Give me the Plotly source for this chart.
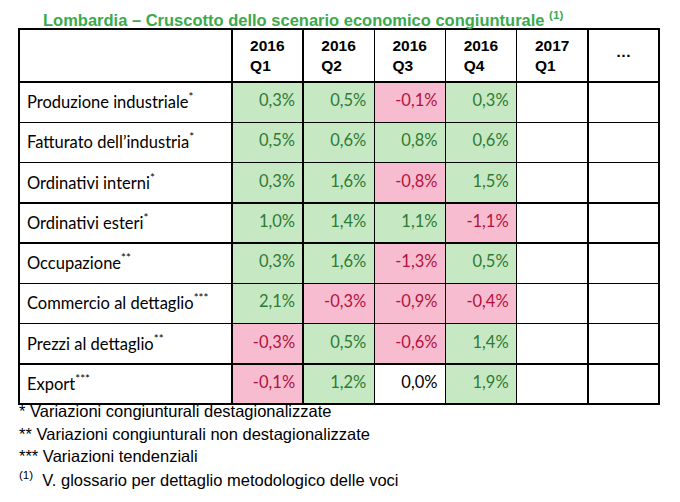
import plotly.graph_objects as go

title = "Lombardia – Cruscotto dello scenario economico congiunturale"
quarters = ["2016<br>Q1", "2016<br>Q2", "2016<br>Q3", "2016<br>Q4", "2017<br>Q1", "…"]
indicators = ["Produzione industriale", "Fatturato dell’industria", "Ordinativi interni",
              "Ordinativi esteri", "Occupazione", "Commercio al dettaglio",
              "Prezzi al dettaglio", "Export"]
marks = ["*", "*", "*", "*", "**", "***", "**", "***"]
q1_2016 = [0.3, 0.5, 0.3, 1.0, 0.3, 2.1, -0.3, -0.1]
q2_2016 = [0.5, 0.6, 1.6, 1.4, 1.6, -0.3, 0.5, 1.2]
q3_2016 = [-0.1, 0.8, -0.8, 1.1, -1.3, -0.9, -0.6, 0.0]
q4_2016 = [0.3, 0.6, 1.5, -1.1, 0.5, -0.4, 1.4, 1.9]
footnotes = ["* Variazioni congiunturali destagionalizzate",
             "** Variazioni congiunturali non destagionalizzate",
             "*** Variazioni tendenziali",
             "<sup>(1)</sup>  V. glossario per dettaglio metodologico delle voci"]

GREEN_FILL, PINK_FILL = "#c6e9c3", "#f7bcd0"
GREEN_TXT, RED_TXT = "#2f7a34", "#b3123f"
CELL_FS = 16.5
HEAD_FS = 15.5


def fmt(v):
    return f"{v:.1f}".replace(".", ",") + "%"


def fill(v):
    return GREEN_FILL if v > 0 else (PINK_FILL if v < 0 else "white")


def tcol(v):
    return GREEN_TXT if v > 0 else (RED_TXT if v < 0 else "black")


def cell(t, fs=CELL_FS):
    # small spacer line so the text sits in the vertical middle of the cell
    return f"<br><span style='font-size:{fs}px'>{t}</span>"


series = [q1_2016, q2_2016, q3_2016, q4_2016]
n = len(indicators)
labels = [cell(f"{a}<sup>{m}</sup>") for a, m in zip(indicators, marks)]
values = [labels] + [[cell(fmt(v)) for v in s] for s in series] + [[""] * n, [""] * n]
fills = [["white"] * n] + [[fill(v) for v in s] for s in series] + [["white"] * n] * 2
fcols = [["black"] * n] + [[tcol(v) for v in s] for s in series] + [["black"] * n] * 2

head_vals = [""] + [f"<b>{q}</b>" for q in quarters[:-1]] + [f"<br><b>{quarters[-1]}</b>"]

# page body has an 8px margin: figure coordinates = reference pixels - 8
OFF = 8
W, H = 680 - OFF, 502 - OFF


def px(x):
    return (x - OFF) / W


def py(y):
    return 1 - (y - OFF) / H


fig = go.Figure(go.Table(
    domain=dict(x=[px(19), px(659)], y=[py(410), py(29)]),
    columnwidth=[213] + [71.2] * 6,
    header=dict(values=head_vals,
                height=46, align="center",
                fill=dict(color="white"),
                line=dict(color="black", width=1.5),
                font=dict(family="Liberation Sans, Arial", size=HEAD_FS, color="black")),
    cells=dict(values=values, height=40.25,
               align=["left"] + ["right"] * 6,
               fill=dict(color=fills),
               line=dict(color="black", width=1.5),
               font=dict(family="Lato, Carlito, sans-serif", size=4, color=fcols)),
))

fig.add_annotation(text=f"<b>{title}</b> <sup><b>(1)</b></sup>", x=px(42), y=1,
                   xref="paper", yref="paper", xanchor="left", yanchor="top",
                   showarrow=False, borderpad=0,
                   font=dict(family="Liberation Sans, Arial", size=16.5, color="#3aaa4c"))
for yy, t in zip([411, 434, 456, 479], footnotes):
    fig.add_annotation(text=t, x=px(17), y=py(yy),
                       xref="paper", yref="paper", xanchor="left", yanchor="middle",
                       showarrow=False,
                       font=dict(family="Liberation Sans, Arial", size=16.5, color="black"))

fig.update_layout(width=W, height=H, margin=dict(l=0, r=0, t=0, b=0),
                  paper_bgcolor="white", plot_bgcolor="white")
fig.write_html("out.html")
